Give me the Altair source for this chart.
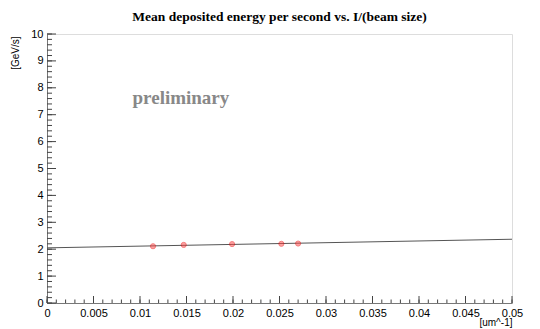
import altair as alt
import pandas as pd
import numpy as np

# data
x_vals = [0.0114, 0.0147, 0.0199, 0.0252, 0.0270]
y_vals = [2.11, 2.16, 2.19, 2.20, 2.21]
fit_x = [0.0, 0.05]
fit_y = [2.05, 2.37]
x_major = [0, 0.005, 0.01, 0.015, 0.02, 0.025, 0.03, 0.035, 0.04, 0.045, 0.05]
y_major = [0, 1, 2, 3, 4, 5, 6, 7, 8, 9, 10]
x_minor = [round(v, 4) for v in np.arange(0, 0.0501, 0.001)]
y_minor = [round(v, 2) for v in np.arange(0, 10.01, 0.2)]
label_text = ["preliminary"]
label_x = [0.0144]
label_y = [7.62]

W, H = 465, 269
FONT = "Liberation Sans"

xs = alt.Scale(domain=[0, 0.05], nice=False, zero=False)
ys = alt.Scale(domain=[0, 10], nice=False, zero=False)

ax_x = alt.Axis(
    values=x_major, format="~g", ticks=False, grid=False, labelOverlap=False,
    domainColor="#777", labelFont=FONT, labelFontSize=11, labelColor="#000",
    labelPadding=4, labelFlush=False,
    title="[um^-1]", titleFont=FONT, titleFontSize=10, titleFontWeight="normal",
    titleAnchor="end", titleAlign="right", titleX=W, titleY=19, titleBaseline="middle")
ax_y = alt.Axis(
    values=y_major, format="d", ticks=False, grid=False, labelOverlap=False,
    domainColor="#777", labelFont=FONT, labelFontSize=11, labelColor="#000",
    labelPadding=4,
    title="[GeV/s]", titleFont=FONT, titleFontSize=10, titleFontWeight="normal",
    titleAngle=-90, titleAlign="right", titleBaseline="middle", titleX=-32, titleY=2)


def X(f):
    return alt.X(f + ":Q", scale=xs, axis=ax_x, title="[um^-1]")


def Y(f):
    return alt.Y(f + ":Q", scale=ys, axis=ax_y, title="[GeV/s]")


pts = pd.DataFrame({"x": x_vals, "y": y_vals})
fit = pd.DataFrame({"x": fit_x, "y": fit_y})

fit_line = alt.Chart(fit).mark_line(color="#555", strokeWidth=1).encode(x=X("x"), y=Y("y"))
points = alt.Chart(pts).mark_circle(size=26, color="#f44", opacity=0.5, stroke="#e00", strokeWidth=1).encode(
    x=X("x"), y=Y("y"))

xM = alt.Chart(pd.DataFrame({"v": x_major})).mark_rule(color="#444", strokeWidth=1).encode(
    x=X("v"), y=alt.value(H), y2=alt.value(H - 7))
xm = alt.Chart(pd.DataFrame({"v": x_minor})).mark_rule(color="#444", strokeWidth=1).encode(
    x=X("v"), y=alt.value(H), y2=alt.value(H - 3.5))
yM = alt.Chart(pd.DataFrame({"v": y_major})).mark_rule(color="#444", strokeWidth=1).encode(
    y=Y("v"), x=alt.value(0), x2=alt.value(9))
ym = alt.Chart(pd.DataFrame({"v": y_minor})).mark_rule(color="#444", strokeWidth=1).encode(
    y=Y("v"), x=alt.value(0), x2=alt.value(5))

prelim = alt.Chart(pd.DataFrame({"x": label_x, "y": label_y, "t": label_text})).mark_text(
    font="Liberation Serif", fontSize=19, fontWeight="bold", color="#888").encode(
    x=X("x"), y=Y("y"), text="t:N")

chart = alt.layer(fit_line, xm, xM, ym, yM, points, prelim).properties(
    width=W, height=H,
    title=alt.TitleParams("Mean deposited energy per second vs. I/(beam size)",
                          font="Liberation Serif", fontSize=13.5, fontWeight="bold",
                          color="#000", anchor="middle", offset=5),
    autosize=alt.AutoSizeParams(type="none"),
    padding={"left": 39, "top": 26, "right": 20, "bottom": 26},
).configure_view(stroke="#777", strokeWidth=1).configure(background="white")

chart.save("out.html", embed_options={"renderer": "svg", "actions": False})
